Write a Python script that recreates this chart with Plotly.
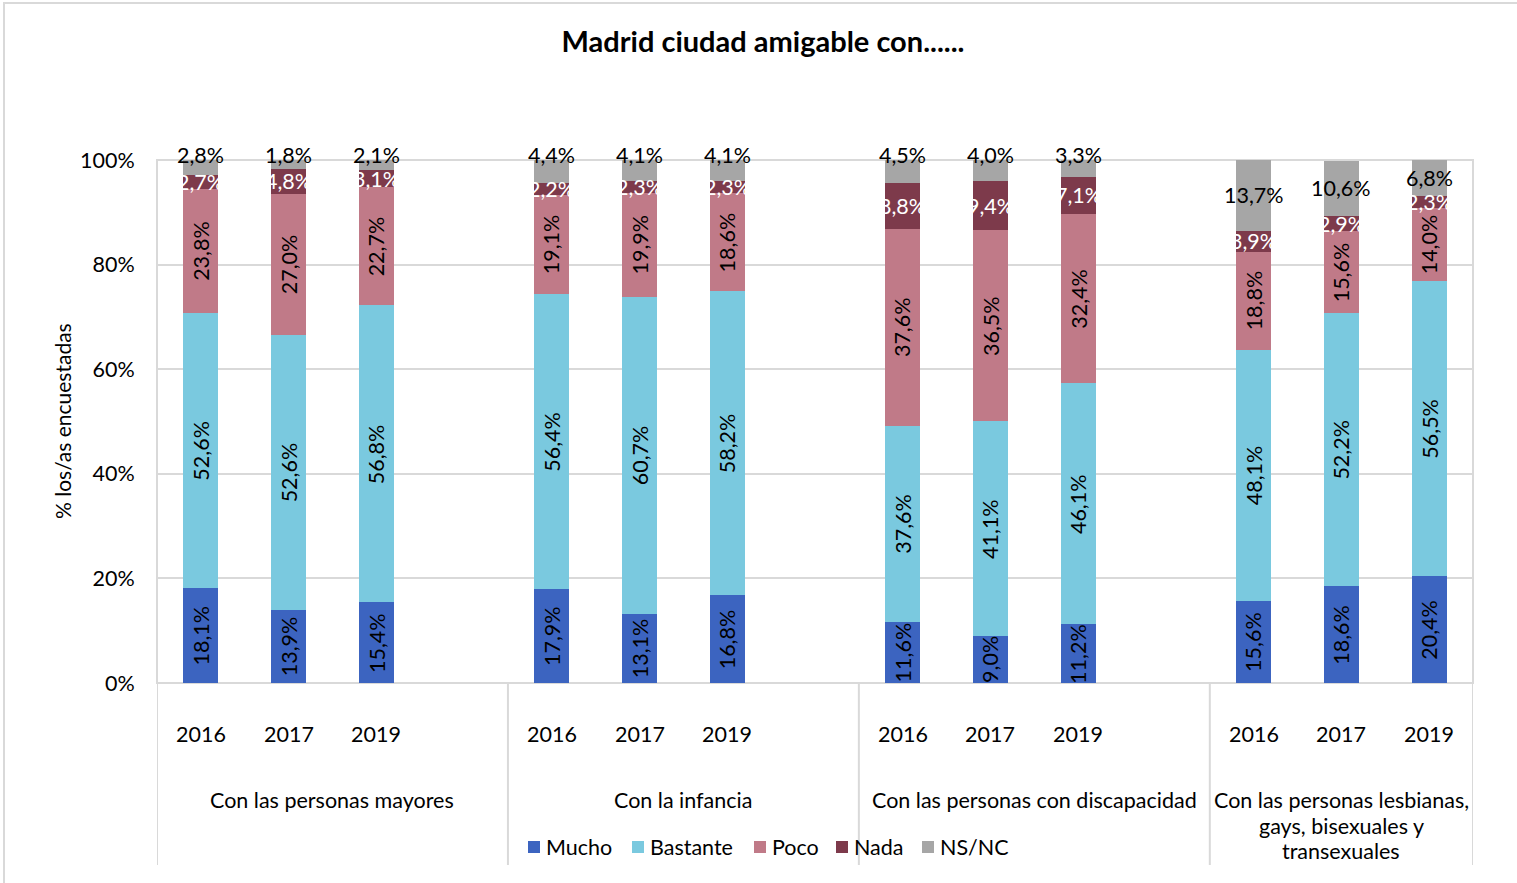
import plotly.graph_objects as go

# data (percent)
groups = [["Con las personas mayores"], ["Con la infancia"],
          ["Con las personas con discapacidad"],
          ["Con las personas lesbianas,", "gays, bisexuales y", "transexuales"]]
years = ["2016", "2017", "2019"]

mucho    = [18.1, 13.9, 15.4, 17.9, 13.1, 16.8, 11.6, 9.0, 11.2, 15.6, 18.6, 20.4]
bastante = [52.6, 52.6, 56.8, 56.4, 60.7, 58.2, 37.6, 41.1, 46.1, 48.1, 52.2, 56.5]
poco     = [23.8, 27.0, 22.7, 19.1, 19.9, 18.6, 37.6, 36.5, 32.4, 18.8, 15.6, 14.0]
nada     = [2.7, 4.8, 3.1, 2.2, 2.3, 2.3, 8.8, 9.4, 7.1, 3.9, 2.9, 2.3]
nsnc     = [2.8, 1.8, 2.1, 4.4, 4.1, 4.1, 4.5, 4.0, 3.3, 13.7, 10.6, 6.8]

series = [("Mucho", mucho, "#3c64c0"),
          ("Bastante", bastante, "#7ac9df"),
          ("Poco", poco, "#c07a88"),
          ("Nada", nada, "#7d3a4b"),
          ("NS/NC", nsnc, "#a6a6a6")]

FONT = "Lato"
FS = 21.5

W, H = 1517, 883
L, R, T, B = 157, 44, 160, 200
PW, PH = W - L - R, H - T - B


def px(x):  # pixel -> paper x
    return (x - L) / PW


def py(y):  # pixel -> paper y
    return (H - B - y) / PH


# slot positions: 3 years per group, an empty slot after each group (Excel blank row)
xpos = []
for g in range(len(groups)):
    for k in range(len(years)):
        xpos.append(g * 4 + k)


def fmt(v):
    return f"{v:.1f}".replace(".", ",") + "%"


fig = go.Figure()
for name, vals, col in series:
    fig.add_trace(go.Bar(x=xpos, y=vals, name=name, marker_color=col,
                         marker_line_width=0, width=0.4, showlegend=False))

ann = []
base = [0.0] * len(xpos)
for si, (name, vals, col) in enumerate(series):
    for i, v in enumerate(vals):
        mid = base[i] + v / 2
        if name in ("Mucho", "Bastante", "Poco"):
            ann.append(dict(x=xpos[i], y=mid, text=fmt(v), textangle=-90,
                            showarrow=False, font=dict(size=FS, color="black")))
        elif name == "Nada":
            ann.append(dict(x=xpos[i], y=mid, text=fmt(v), showarrow=False,
                            font=dict(size=FS, color="white")))
        else:
            # small ones sit on top of the bar; y range is 0-100 so paper = value/100
            yy = mid if v > 6 else 101.0
            ann.append(dict(x=xpos[i], y=yy / 100, yref="paper", yanchor="middle",
                            text=fmt(v), showarrow=False,
                            font=dict(size=FS, color="black")))
        base[i] += v

# category axis labels
for i, x in enumerate(xpos):
    ann.append(dict(x=x, y=py(734), yref="paper", yanchor="middle", text=years[i % 3],
                    showarrow=False, font=dict(size=FS, color="black")))
group_centers = [1.5, 5.5, 9.5, 13]
for g, c in enumerate(group_centers):
    for j, line in enumerate(groups[g]):
        ann.append(dict(x=c, y=py(800 + 25.5 * j), yref="paper", yanchor="middle",
                        text=line, showarrow=False, font=dict(size=FS, color="black")))

ann.append(dict(x=px(62), xref="paper", y=py(421), yref="paper", xanchor="center",
                yanchor="middle", text="% los/as encuestadas", textangle=-90,
                showarrow=False, font=dict(size=21, color="black")))

shapes = []
for sx in [-0.5, 3.5, 7.5, 11.5, 14.5]:
    shapes.append(dict(type="line", xref="x", yref="paper", x0=sx, x1=sx,
                       y0=0, y1=py(865), line=dict(color="#d9d9d9", width=2)))
# plot area border
shapes.append(dict(type="rect", xref="paper", yref="paper", x0=0, x1=1, y0=0, y1=1,
                   line=dict(color="#d9d9d9", width=2), layer="below"))
# chart border
shapes.append(dict(type="rect", xref="paper", yref="paper",
                   x0=px(4), x1=px(1540), y0=py(900), y1=py(3),
                   line=dict(color="#d9d9d9", width=2)))

# legend drawn by hand (square + label)
leg_sq = [528, 632, 754, 836, 922]
for (name, vals, col), lx in zip(series, leg_sq):
    shapes.append(dict(type="rect", xref="paper", yref="paper",
                       x0=px(lx), x1=px(lx + 12), y0=py(853), y1=py(841),
                       fillcolor=col, line=dict(width=0)))
    ann.append(dict(x=px(lx + 16), xref="paper", xanchor="left", y=py(847), yref="paper",
                    yanchor="middle", text=name, showarrow=False,
                    font=dict(size=FS, color="black")))

fig.update_layout(
    barmode="stack",
    width=W, height=H,
    margin=dict(l=L, r=R, t=T, b=B),
    paper_bgcolor="white", plot_bgcolor="white",
    font=dict(family=FONT, size=FS, color="black"),
    title=dict(text="<b>Madrid ciudad amigable con......</b>", xref="paper", x=px(763),
               xanchor="center", y=1 - 42 / H, yanchor="middle",
               font=dict(size=29, color="black")),
    xaxis=dict(range=[-0.5, 14.5], showticklabels=False, showgrid=False,
               zeroline=False, ticks=""),
    yaxis=dict(range=[0, 100], tickvals=[0, 20, 40, 60, 80, 100],
               ticktext=["0%", "20%", "40%", "60%", "80%", "100%"],
               gridcolor="#d9d9d9", gridwidth=2, zeroline=False,
               ticks="outside", ticklen=17, tickcolor="rgba(0,0,0,0)",
               tickfont=dict(size=FS)),
    showlegend=False,
    annotations=ann,
    shapes=shapes,
    separators=",.",
)

fig.write_html("out.html", config={"displayModeBar": False},
               post_script="document.body.style.margin='0';")
